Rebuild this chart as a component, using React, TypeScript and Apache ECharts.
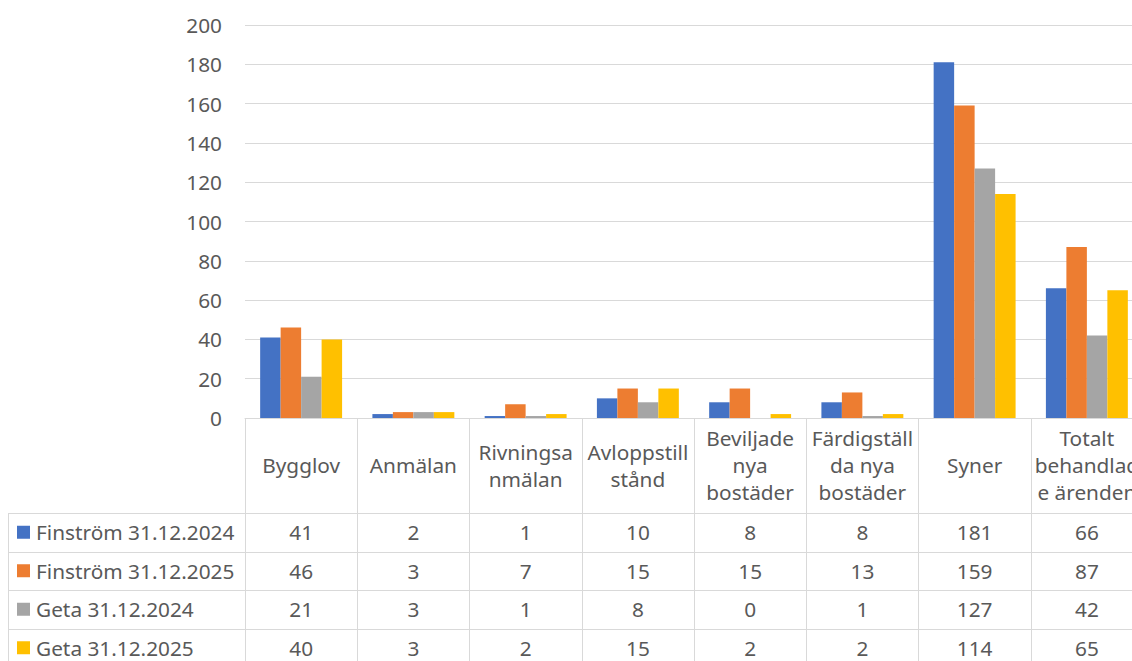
import React, { useEffect, useRef } from "react";
import * as echarts from "echarts";

const categories = [
  "Bygglov",
  "Anmälan",
  "Rivningsa\nnmälan",
  "Avloppstill\nstånd",
  "Beviljade\nnya\nbostäder",
  "Färdigställ\nda nya\nbostäder",
  "Syner",
  "Totalt\nbehandlad\ne ärenden",
];
const seriesNames = [
  "Finström 31.12.2024",
  "Finström 31.12.2025",
  "Geta 31.12.2024",
  "Geta 31.12.2025",
];
const finstrom2024 = [41, 2, 1, 10, 8, 8, 181, 66];
const finstrom2025 = [46, 3, 7, 15, 15, 13, 159, 87];
const geta2024 = [21, 3, 1, 8, 0, 1, 127, 42];
const geta2025 = [40, 3, 2, 15, 2, 2, 114, 65];
const yTicks = { min: 0, max: 200, interval: 20 };

const colors = ["#4472C4", "#ED7D31", "#A5A5A5", "#FFC000"];
const FONT = "Noto Sans";
const FS = 20.8;
const TXT = "#595959";
const LINE = "#D9D9D9";
const CHART_W = 1143;

export default function App() {
  const ref = useRef<HTMLDivElement>(null);
  useEffect(() => {
    const chart = echarts.init(ref.current!, null, { renderer: "svg" });
    const data = [finstrom2024, finstrom2025, geta2024, geta2025];
    const option: any = {
      animation: false,
      grid: { left: 245, top: 25, right: 0, height: 393, containLabel: false },
      xAxis: {
        type: "category",
        data: categories,
        axisLine: { show: true, lineStyle: { color: LINE, width: 1 } },
        axisTick: { show: true, length: 260, interval: 0, lineStyle: { color: LINE, width: 1 } },
        axisLabel: {
          interval: 0,
          margin: 47,
          verticalAlign: "middle",
          lineHeight: 27,
          fontSize: FS,
          fontFamily: FONT,
          color: TXT,
        },
      },
      yAxis: {
        type: "value",
        min: yTicks.min,
        max: yTicks.max,
        interval: yTicks.interval,
        axisLine: { show: false },
        axisTick: { show: false },
        splitLine: { lineStyle: { color: LINE, width: 1 } },
        axisLabel: { margin: 23, fontSize: FS, fontFamily: FONT, color: TXT },
      },
      series: data.map((d, i) => ({
        name: seriesNames[i],
        type: "bar",
        data: d,
        barGap: "0%",
        barCategoryGap: "27%",
        itemStyle: { color: colors[i] },
      })),
    };
    chart.setOption(option);

    const base = chart.convertToPixel({ yAxisIndex: 0 }, 0) as number;
    const rowTop = base + 95;
    const rowH = 38.5;
    const graphics: any[] = [];
    const left = 8;
    const right = CHART_W;
    for (let r = 0; r < 4; r++) {
      const y = Math.round(rowTop + r * rowH) + 0.5;
      graphics.push({
        type: "line",
        shape: { x1: left, y1: y, x2: right, y2: y },
        style: { stroke: LINE, lineWidth: 1 },
        silent: true,
      });
    }
    graphics.push({
      type: "line",
      shape: { x1: left + 0.5, y1: Math.round(rowTop), x2: left + 0.5, y2: 700 },
      style: { stroke: LINE, lineWidth: 1 },
      silent: true,
    });
    for (let r = 0; r < 4; r++) {
      const cy = rowTop + r * rowH + rowH / 2;
      graphics.push({
        type: "rect",
        shape: { x: 17, y: cy - 6.5, width: 13, height: 13 },
        style: { fill: colors[r] },
        silent: true,
      });
      graphics.push({
        type: "text",
        x: 36,
        y: cy,
        style: {
          text: seriesNames[r],
          fontSize: FS,
          fontFamily: FONT,
          fill: TXT,
          verticalAlign: "middle",
          align: "left",
        },
        silent: true,
      });
      data[r].forEach((v, i) => {
        const cx = chart.convertToPixel({ xAxisIndex: 0 }, i) as number;
        graphics.push({
          type: "text",
          x: cx,
          y: cy,
          style: {
            text: String(v),
            fontSize: FS,
            fontFamily: FONT,
            fill: TXT,
            align: "center",
            verticalAlign: "middle",
          },
          silent: true,
        });
      });
    }
    chart.setOption({ graphic: graphics });
    return () => chart.dispose();
  }, []);
  return (
    <div
      style={{ position: "absolute", left: 0, top: 0, width: 1132, height: 661, overflow: "hidden", background: "#fff" }}
    >
      <div ref={ref} style={{ width: CHART_W, height: 661 }} />
    </div>
  );
}
